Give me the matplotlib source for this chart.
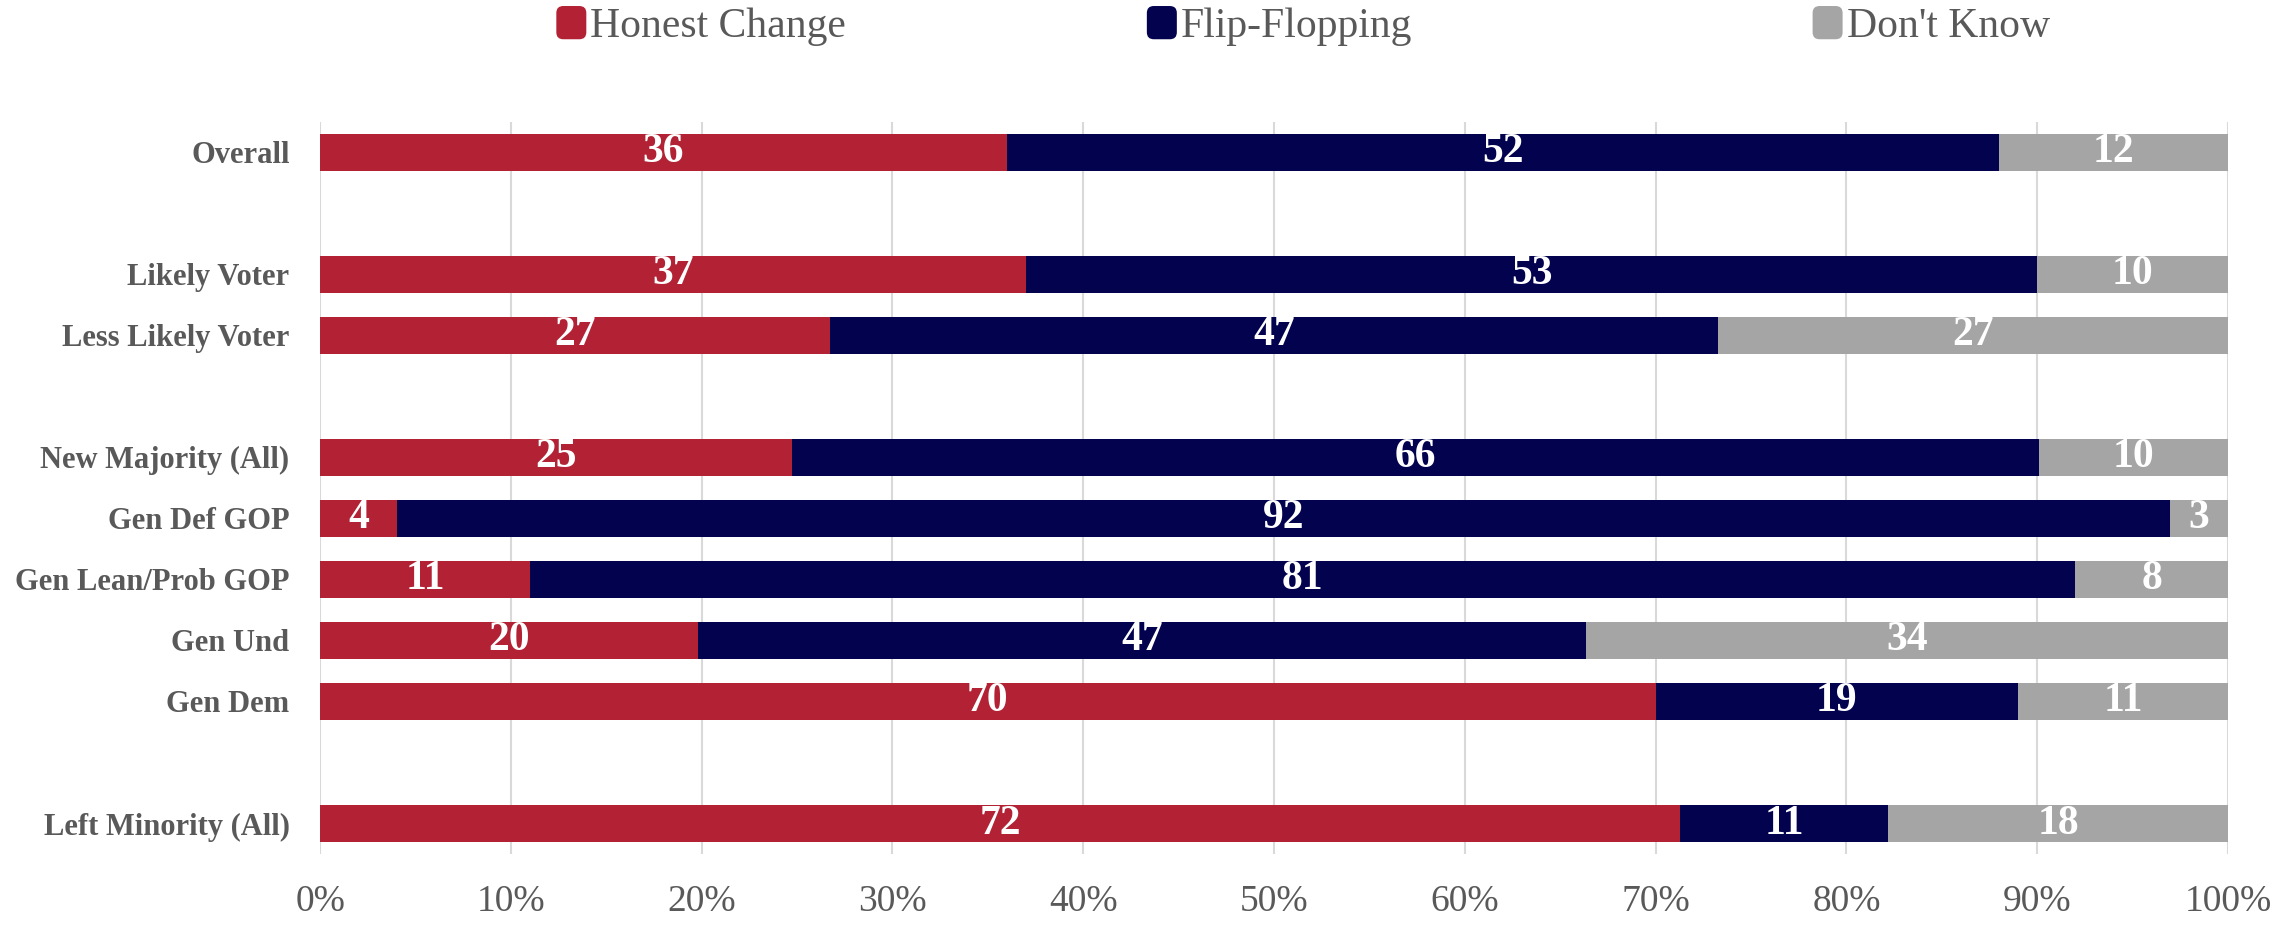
import numpy as np
import matplotlib
matplotlib.use("Agg")
import matplotlib.pyplot as plt
from matplotlib.patches import Patch, FancyBboxPatch
from matplotlib.legend_handler import HandlerPatch

# rows, top to bottom ("" = spacer row)
categories = ["Overall", "", "Likely Voter", "Less Likely Voter", "",
              "New Majority (All)", "Gen Def GOP", "Gen Lean/Prob GOP",
              "Gen Und", "Gen Dem", "", "Left Minority (All)"]
honest = [36, None, 37, 27, None, 25, 4, 11, 20, 70, None, 72]
flip = [52, None, 53, 47, None, 66, 92, 81, 47, 19, None, 11]
dont_know = [12, None, 10, 27, None, 10, 3, 8, 34, 11, None, 18]

series_names = ["Honest Change", "Flip-Flopping", "Don't Know"]
colors = ["#B22234", "#02024F", "#A5A5A5"]
ticks = np.arange(0, 1.01, 0.1)

label_color = "#595959"


class RoundedHandler(HandlerPatch):
    # small rounded square for the legend keys
    def create_artists(self, legend, orig_handle, xdescent, ydescent,
                       width, height, fontsize, trans):
        p = FancyBboxPatch((-xdescent, -ydescent), width, height,
                           boxstyle="round,pad=0,rounding_size=5",
                           facecolor=orig_handle.get_facecolor(),
                           edgecolor="none", transform=trans)
        return [p]


fig = plt.figure(figsize=(22.8, 9.3), dpi=100)
ax = fig.add_axes([0.1404, 0.0817, 0.8368, 0.7873])

for i, cat in enumerate(categories):
    if honest[i] is None:
        continue
    vals = np.array([honest[i], flip[i], dont_know[i]], dtype=float)
    shares = vals / vals.sum()
    left = 0.0
    for v, s, c in zip(vals, shares, colors):
        ax.barh(i, s, left=left, height=0.6, color=c, edgecolor="none", zorder=3)
        ax.text(left + s / 2, i, f"{int(v)}", ha="center", va="center",
                color="white", fontsize=30, fontweight="bold",
                family="Liberation Serif", zorder=4)
        left += s

ax.set_ylim(len(categories) - 0.5, -0.5)
ax.set_xlim(0, 1)
ax.set_xticks(ticks)
ax.set_xticklabels([f"{int(round(t * 100))}%" for t in ticks])
ax.set_yticks(range(len(categories)))
ax.set_yticklabels(categories)

for lab in ax.get_yticklabels():
    lab.set_family("Liberation Serif")
    lab.set_fontweight("bold")
    lab.set_fontsize(22)
    lab.set_color(label_color)
for lab in ax.get_xticklabels():
    lab.set_family("Liberation Serif")
    lab.set_fontsize(27)
    lab.set_color(label_color)

ax.tick_params(axis="both", length=0)
ax.tick_params(axis="y", pad=22)
ax.tick_params(axis="x", pad=22)
ax.grid(axis="x", color="#D9D9D9", linewidth=1.5, zorder=0)
for sp in ax.spines.values():
    sp.set_visible(False)

# legend entries spread across the top
legend_x = [0.244, 0.503, 0.795]
for name, c, x in zip(series_names, colors, legend_x):
    fig.legend(handles=[Patch(facecolor=c, edgecolor="none")], labels=[name],
               loc="center left", bbox_to_anchor=(x, 0.972), frameon=False,
               prop={"family": "Liberation Serif", "size": 30},
               labelcolor=label_color, handlelength=0.72, handleheight=0.85,
               handletextpad=0.1, borderpad=0, borderaxespad=0,
               handler_map={Patch: RoundedHandler()})

fig.savefig("out.png", dpi=100)
